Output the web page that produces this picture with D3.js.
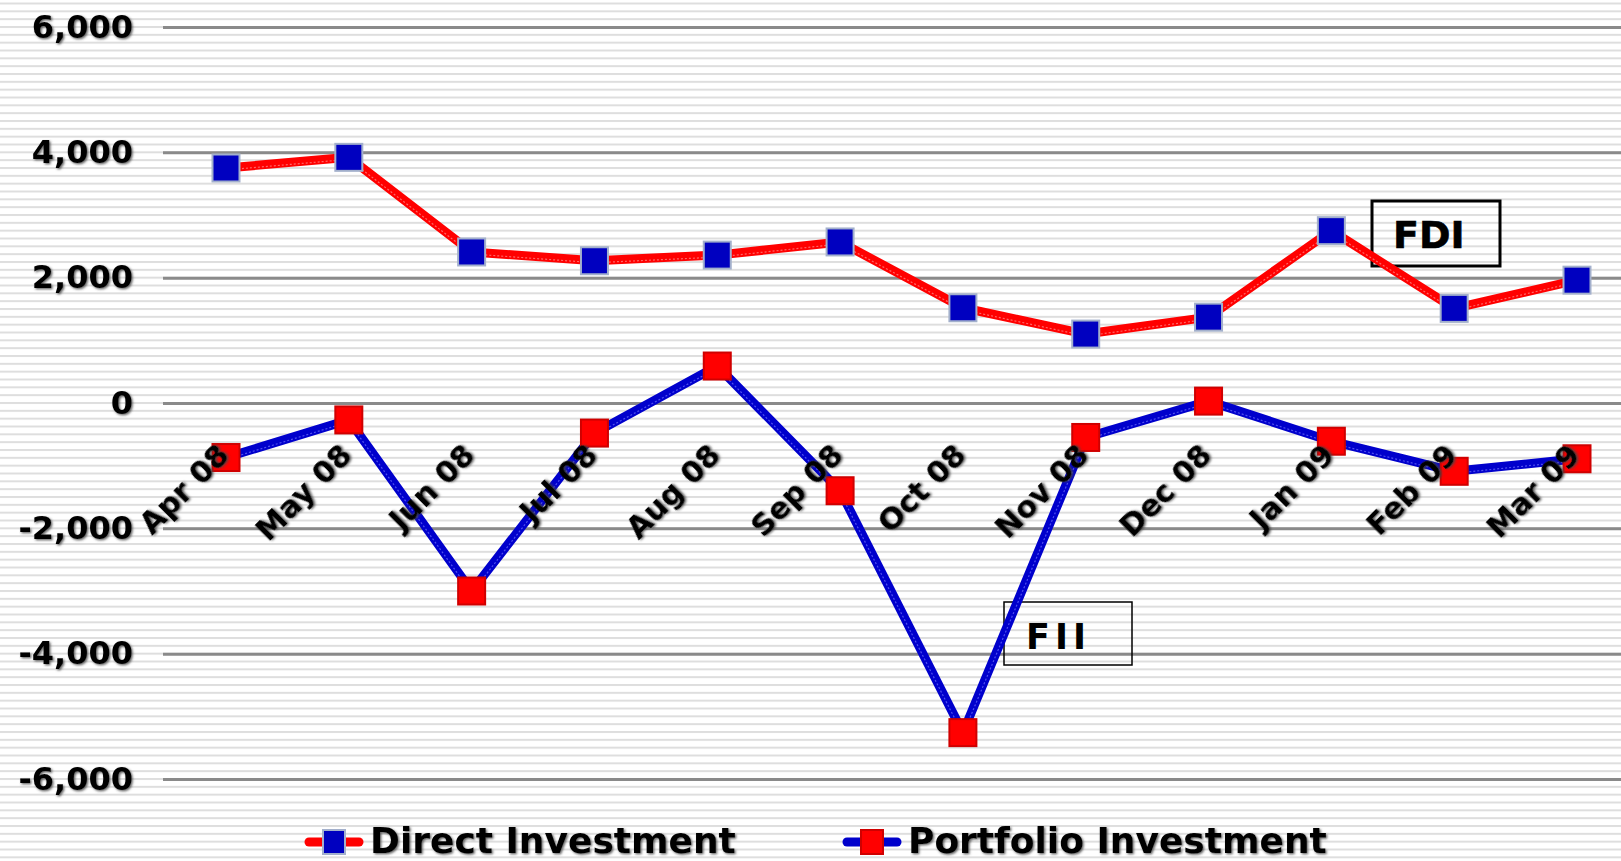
<!DOCTYPE html>
<html>
<head>
<meta charset="utf-8">
<script src="https://cdn.jsdelivr.net/npm/d3@7"></script>
<style>
    html, body { margin: 0; padding: 0; background: #fff; }
    svg { display: block; font-family: "DejaVu Sans", Verdana, sans-serif; font-weight: bold; }
</style>
</head>
<body>
<div id="chart"></div>
<script>
(function () {
    "use strict";

    const months = ["Apr 08", "May 08", "Jun 08", "Jul 08", "Aug 08", "Sep 08",
        "Oct 08", "Nov 08", "Dec 08", "Jan 09", "Feb 09", "Mar 09"];
    const directInvestment = [3750, 3920, 2410, 2270, 2360, 2570, 1520, 1100, 1370, 2750, 1510, 1960];
    const portfolioInvestment = [-870, -270, -3000, -480, 590, -1400, -5260, -550, 30, -610, -1090, -890];
    const yTicks = [-6000, -4000, -2000, 0, 2000, 4000, 6000];
    const yTickLabels = ["-6,000", "-4,000", "-2,000", "0", "2,000", "4,000", "6,000"];

    const width = 1621;
    const height = 861;

    const xScale = d3.scalePoint().domain(months).range([226, 1577]);
    const yScale = d3.scaleLinear().domain([-6000, 6000]).range([779, 27]);

    const svg = d3.select("#chart").append("svg")
        .attr("width", width)
        .attr("height", height);

    const defs = svg.append("defs");

    // background stripes, 16 per grid interval, lined up with the grid
    const stripeStep = (yScale(0) - yScale(2000)) / 16;
    const pattern = defs.append("pattern")
        .attr("id", "stripes")
        .attr("patternUnits", "userSpaceOnUse")
        .attr("width", 20)
        .attr("height", stripeStep)
        .attr("patternTransform", "translate(0," + (yScale(0) - 1) + ")");
    pattern.append("rect")
        .attr("width", 20)
        .attr("height", 2)
        .attr("fill", "#dedede");

    const shadow = defs.append("filter")
        .attr("id", "textShadow")
        .attr("x", "-10%").attr("y", "-30%")
        .attr("width", "120%").attr("height", "160%");
    shadow.append("feDropShadow")
        .attr("dx", 1.3).attr("dy", 1.3)
        .attr("stdDeviation", 0.8)
        .attr("flood-color", "#444")
        .attr("flood-opacity", 0.85);

    svg.append("rect")
        .attr("width", width)
        .attr("height", height)
        .attr("fill", "url(#stripes)");

    // y axis + gridlines
    const yAxis = d3.axisLeft(yScale)
        .tickValues(yTicks)
        .tickFormat((d, i) => yTickLabels[i])
        .tickSize(-(width - 163))
        .tickPadding(30);

    const yAxisG = svg.append("g")
        .attr("transform", "translate(163,0)")
        .call(yAxis);
    yAxisG.select(".domain").remove();
    yAxisG.selectAll(".tick line")
        .attr("stroke", "#8a8a8a")
        .attr("stroke-width", 3);
    yAxisG.selectAll(".tick text")
        .attr("fill", "#000")
        .attr("font-size", 32)
        .attr("font-family", "DejaVu Sans, Verdana, sans-serif")
        .attr("font-weight", "bold")
        .attr("filter", "url(#textShadow)");

    // annotation boxes, drawn under the lines
    svg.append("rect")
        .attr("x", 1372).attr("y", 201)
        .attr("width", 128).attr("height", 65)
        .attr("fill", "none")
        .attr("stroke", "#000")
        .attr("stroke-width", 3);
    svg.append("text")
        .attr("x", 1393).attr("y", 248)
        .attr("font-size", 38)
        .attr("stroke", "#000")
        .attr("stroke-width", 0.6)
        .text("FDI");

    svg.append("rect")
        .attr("x", 1004).attr("y", 602)
        .attr("width", 128).attr("height", 63)
        .attr("fill", "none")
        .attr("stroke", "#000")
        .attr("stroke-width", 1.5);
    svg.append("text")
        .attr("x", 1026).attr("y", 649)
        .attr("font-size", 35)
        .attr("letter-spacing", 5)
        .text("FII");

    const line = d3.line()
        .x((d, i) => xScale(months[i]))
        .y(d => yScale(d));

    const series = [
        { values: directInvestment, lineColor: "#ff0000", highlight: "#ff9090", markerFill: "#0000c0", markerStroke: "#a3b0cc" },
        { values: portfolioInvestment, lineColor: "#0000cc", highlight: "#7070ff", markerFill: "#ff0000", markerStroke: "#d00000" }
    ];

    const markerSize = 27;

    series.forEach(s => {
        svg.append("path")
            .datum(s.values)
            .attr("d", line)
            .attr("fill", "none")
            .attr("stroke", s.lineColor)
            .attr("stroke-width", 9)
            .attr("stroke-linejoin", "round");

        // faint dotted sheen along the line
        svg.append("path")
            .datum(s.values)
            .attr("d", line)
            .attr("transform", "translate(0,2)")
            .attr("fill", "none")
            .attr("stroke", s.highlight)
            .attr("stroke-width", 1.2)
            .attr("stroke-dasharray", "2,2")
            .attr("opacity", 0.7);

        svg.append("g")
            .selectAll("rect")
            .data(s.values)
            .join("rect")
            .attr("x", (d, i) => xScale(months[i]) - markerSize / 2)
            .attr("y", d => yScale(d) - markerSize / 2)
            .attr("width", markerSize)
            .attr("height", markerSize)
            .attr("fill", s.markerFill)
            .attr("stroke", s.markerStroke)
            .attr("stroke-width", 2);
    });

    // month labels at 45 degrees
    svg.append("g")
        .selectAll("text")
        .data(months)
        .join("text")
        .attr("transform", d => "translate(" + (xScale(d) + 5) + ",457) rotate(-45)")
        .attr("text-anchor", "end")
        .attr("font-size", 30)
        .attr("filter", "url(#textShadow)")
        .text(d => d);

    // legend
    const legendItems = [
        { label: "Direct Investment", x: 305, lineColor: "#ff0000", markerFill: "#0000c0", markerStroke: "#a3b0cc" },
        { label: "Portfolio Investment", x: 843, lineColor: "#0000cc", markerFill: "#ff0000", markerStroke: "#d00000" }
    ];
    const legendY = 842;

    const legend = svg.append("g")
        .selectAll("g")
        .data(legendItems)
        .join("g")
        .attr("transform", d => "translate(" + d.x + "," + legendY + ")");

    legend.append("line")
        .attr("x1", 4).attr("x2", 54)
        .attr("stroke", d => d.lineColor)
        .attr("stroke-width", 9)
        .attr("stroke-linecap", "round");

    legend.append("rect")
        .attr("x", 18).attr("y", -12)
        .attr("width", 22).attr("height", 24)
        .attr("fill", d => d.markerFill)
        .attr("stroke", d => d.markerStroke)
        .attr("stroke-width", 2);

    legend.append("text")
        .attr("x", 65)
        .attr("y", 11)
        .attr("font-size", 36)
        .attr("filter", "url(#textShadow)")
        .text(d => d.label);
}());
</script>
</body>
</html>
